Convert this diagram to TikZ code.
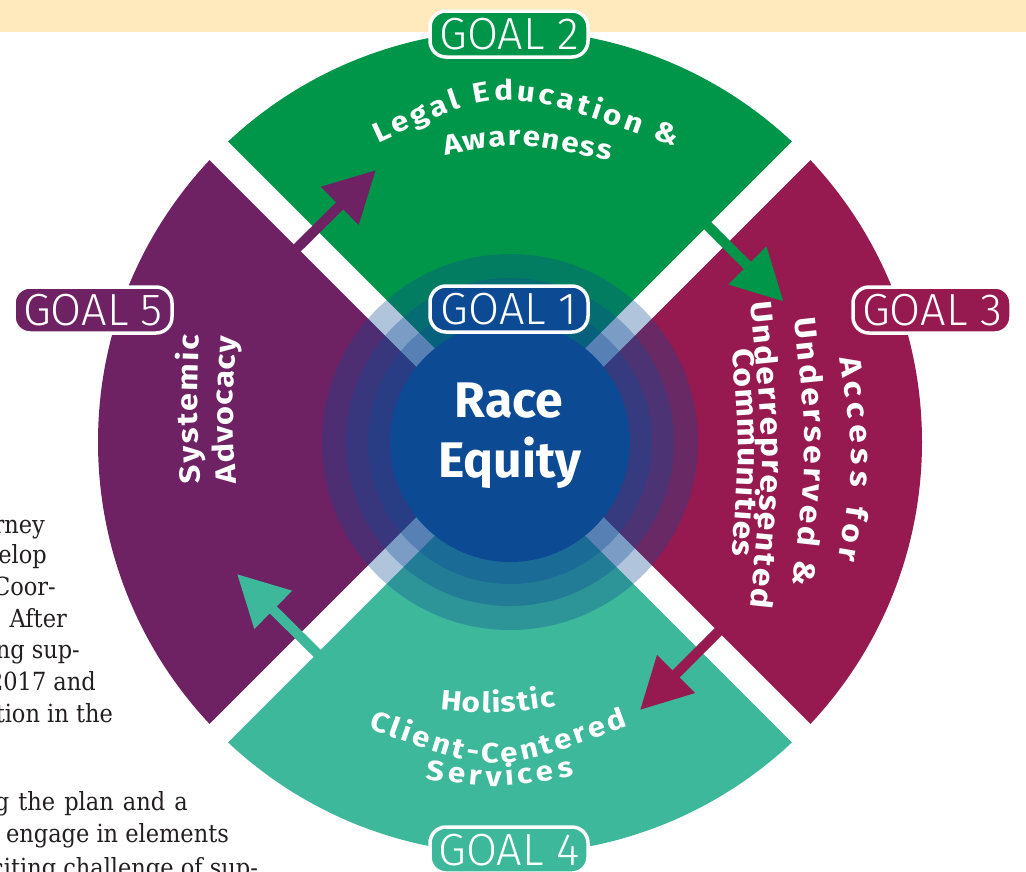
\documentclass[tikz,border=0pt]{standalone}
\usepackage{fontspec}
\newfontfamily\fira{Fira Sans}[FakeStretch=1.12]
\newfontfamily\firaplain{Fira Sans}
\newfontfamily\firalight{Fira Sans Light}
\newfontfamily\pagefont{DejaVu Serif Condensed}
\usetikzlibrary{decorations.text,arrows.meta}
\definecolor{cgreen}{HTML}{00964A}
\definecolor{cmag}{HTML}{961A50}
\definecolor{cpurple}{HTML}{6E2264}
\definecolor{cteal}{HTML}{3DB89B}
\definecolor{cblue}{HTML}{0C4A94}
\definecolor{cband}{HTML}{FEEABD}
\definecolor{cink}{HTML}{231F20}
\begin{document}
\begin{tikzpicture}[x=1pt,y=-1pt,
  goal/.style={draw=white, line width=3.5pt, rounded corners=16pt, minimum width=158pt, minimum height=46pt, inner sep=0pt, text=white, font=\firalight\fontsize{45}{45}\selectfont},
  pagetxt/.style={anchor=base east, inner sep=0pt, text=cink, font=\pagefont\fontsize{25}{31}\selectfont},
  flow/.style={line width=10pt, -{Triangle[length=51pt,width=51pt]}},
  gapline/.style={white, line width=26pt},
  ring/.style={cblue, fill opacity=0.32},
  bigtxt/.style={anchor=base, inner sep=0pt, text=white, font=\firaplain\bfseries\fontsize{50}{60}\selectfont},
  arctxt/.style={decorate, decoration={text along path, text color=white, text align={fit to path}, text={#1}}},
]
\useasboundingbox (0,0) rectangle (1026,871);
\clip (0,0) rectangle (1026,871);
\fill[cband] (0,0) rectangle (1026,32);

% page text at left
\node[pagetxt] (p1) at (45,533) {rney};
\node[pagetxt] (p2) at (47,563) {velop};
\node[pagetxt] (p3) at (56,595) {Coor-};
\node[pagetxt] (p4) at (67,627) {. After};
\node[pagetxt] (p5) at (80,658) {ng sup-};
\node[pagetxt] (p6) at (96,690) {2017 and};
\node[pagetxt] (p7) at (113,722) {tion in the};
\node[pagetxt] (p8) at (188,810) {\makebox[193pt][s]{g the plan and a}};
\node[pagetxt] (p9) at (229,842) {o engage in elements};
\node[pagetxt] (p10) at (258,876) {xciting challenge of sup-};

\coordinate (C) at (510,442);
% sectors
\begin{scope}
  \clip (C) -- ++(-135:700) -- ++(0:990) -- cycle;
  \fill[cgreen] (C) circle[radius=412pt];
\end{scope}
\begin{scope}
  \clip (C) -- ++(-45:700) -- ++(90:990) -- cycle;
  \fill[cmag] (C) circle[radius=412pt];
\end{scope}
\begin{scope}
  \clip (C) -- ++(45:700) -- ++(180:990) -- cycle;
  \fill[cteal] (C) circle[radius=412pt];
\end{scope}
\begin{scope}
  \clip (C) -- ++(135:700) -- ++(-90:990) -- cycle;
  \fill[cpurple] (C) circle[radius=412pt];
\end{scope}
% white gaps
\draw[gapline] (C) ++(-135:430) -- ++(45:860);
\draw[gapline] (C) ++(-45:430) -- ++(135:860);
% centre rings
\fill[ring] (C) circle[radius=188pt];
\fill[ring] (C) circle[radius=164pt];
\fill[ring] (C) circle[radius=142pt];
\fill[cblue] (C) circle[radius=120pt];

% flow arrows
\coordinate (a1s) at (285,260); \coordinate (a1e) at (376,170);
\coordinate (a2s) at (696,214); \coordinate (a2e) at (783.5,301.5);
\coordinate (a3s) at (730,620); \coordinate (a3e) at (640,710);
\coordinate (a4s) at (329,665); \coordinate (a4e) at (237,574);
\draw[flow, cpurple] (a1s) -- (a1e);
\draw[flow, cgreen] (a2s) -- (a2e);
\draw[flow, cmag] (a3s) -- (a3e);
\draw[flow, cteal] (a4s) -- (a4e);

% sector texts
\path[arctxt={|\fira\bfseries\fontsize{28}{30}\selectfont|Legal Education {\&}}] (378,143) .. controls (503.5,85) .. (675,147);
\path[arctxt={|\fira\bfseries\fontsize{28}{30}\selectfont|Awareness}] (445,156) .. controls (516.5,141.5) .. (610,161);

\path[arctxt={|\fira\bfseries\fontsize{30}{30}\selectfont|Access for}] (839,358) .. controls (855.5,459) .. (838,560);
\path[arctxt={|\fira\bfseries\fontsize{30}{30}\selectfont|Underserved {\&}}] (794,318) .. controls (808.5,452.5) .. (793,585);
\path[arctxt={|\fira\bfseries\fontsize{30}{30}\selectfont|Underrepresented}] (750,302) .. controls (766,455.5) .. (750,607);
\path[arctxt={|\fira\bfseries\fontsize{30}{30}\selectfont|Communities}] (732,349) .. controls (740,451.5) .. (732,556);

\path[arctxt={|\fira\bfseries\fontsize{29}{30}\selectfont|Systemic}] (200,483) .. controls (196.5,408) .. (199,335);
\path[arctxt={|\fira\bfseries\fontsize{29}{30}\selectfont|Advocacy}] (236,483) .. controls (232,410) .. (236,337);

\path[arctxt={|\fira\bfseries\fontsize{28}{30}\selectfont|Holistic}] (440,709) .. controls (496,714.5) .. (556,706);
\path[arctxt={|\fira\bfseries\fontsize{28}{30}\selectfont|Client-Centered}] (368,728) .. controls (496,775) .. (628,726);
\path[arctxt={|\fira\bfseries\fontsize{28}{30}\selectfont|Services}] (425,779) .. controls (500.5,789) .. (574,776);

% centre text
\node[bigtxt] (race) at (509,417) {Race};
\node[bigtxt] (equity) at (510,477) {Equity};

% goal labels
\node[goal, fill=cgreen] (g2) at (509,34) {GOAL 2};
\node[goal, fill=cblue] (g1) at (509,309) {GOAL 1};
\node[goal, fill=cmag] (g3) at (932,310) {GOAL 3};
\node[goal, fill=cpurple] (g5) at (93,310) {GOAL 5};
\node[goal, fill=cteal] (g4) at (509,850) {GOAL 4};
\end{tikzpicture}
\end{document}
